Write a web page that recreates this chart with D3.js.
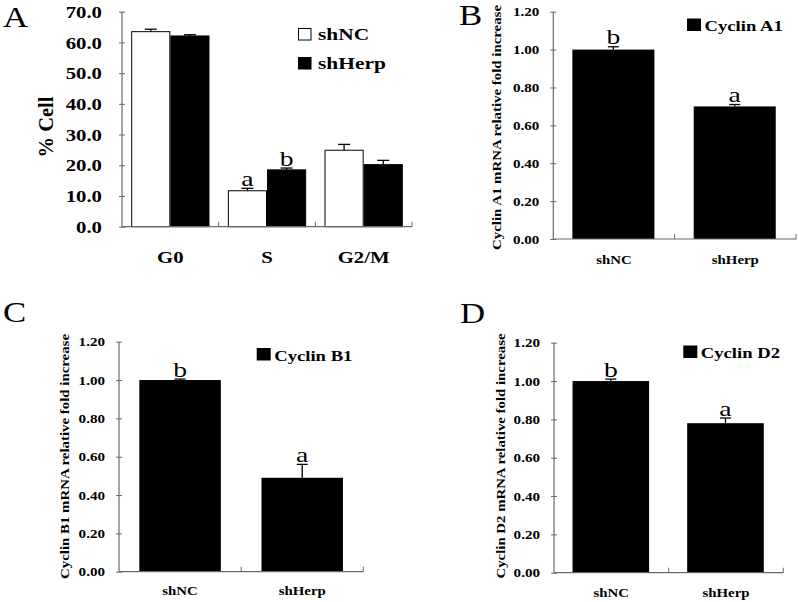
<!DOCTYPE html>
<html>
<head>
<meta charset="utf-8">
<script src="https://cdn.jsdelivr.net/npm/d3@7"></script>
<style>
  html, body { margin: 0; padding: 0; background: #fff; }
  svg { display: block; }
  text { font-family: "Liberation Serif", "Times New Roman", serif; fill: #000; }
</style>
</head>
<body>
<svg id="chart" width="798" height="602"></svg>
<script>
// ---------------- DATA ----------------
const phaseCategories = ["G0", "S", "G2/M"];
const cellSeries = ["shNC", "shHerp"];
const shNCPercent = [63.5, 11.7, 24.9];
const shNCPercentErr = [0.8, 0.8, 1.9];
const shHerpPercent = [62.1, 18.5, 20.2];
const shHerpPercentErr = [0.4, 0.6, 1.4];
const shNCPercentSig = ["", "a", ""];
const shHerpPercentSig = ["", "b", ""];
const percentTicks = [0, 10, 20, 30, 40, 50, 60, 70];

const groupLabels = ["shNC", "shHerp"];
const foldTicks = [0, 0.2, 0.4, 0.6, 0.8, 1.0, 1.2];
const cyclinA1 = [1.00, 0.70];
const cyclinA1Err = [0.015, 0.01];
const cyclinA1Sig = ["b", "a"];
const cyclinB1 = [1.00, 0.49];
const cyclinB1Err = [0.005, 0.07];
const cyclinB1Sig = ["b", "a"];
const cyclinD2 = [1.00, 0.78];
const cyclinD2Err = [0.01, 0.027];
const cyclinD2Sig = ["b", "a"];

// ---------------- HELPERS ----------------
const SX = 1.26; // horizontal stretch of the original figure text
const AXIS_COLOR = "#6a6a6a";
const svg = d3.select("#chart");

function hText(g, x, y, str, size, opts = {}) {
  return g.append("text")
    .attr("transform", `translate(${x},${y}) scale(${opts.sx || SX},1)`)
    .attr("text-anchor", opts.anchor || "start")
    .attr("font-size", size)
    .attr("font-weight", opts.bold ? "bold" : "normal")
    .text(str);
}

function vTitle(g, x, cy, str, size, len) {
  const t = g.append("text")
    .attr("transform", `translate(${x},${cy}) rotate(-90)`)
    .attr("text-anchor", "middle")
    .attr("font-size", size)
    .attr("font-weight", "bold")
    .text(str);
  if (len) t.attr("textLength", len).attr("lengthAdjust", "spacingAndGlyphs");
  return t;
}

function drawAxes(g, x0, x1, y, ticks, fmt, tickFont, tickGap, nCats) {
  const yAxis = d3.axisLeft(y).tickValues(ticks).tickFormat(d3.format(fmt)).tickSize(3).tickPadding(0);
  const ga = g.append("g").attr("transform", `translate(${x0},0)`).call(yAxis)
    .attr("font-family", null);
  ga.select(".domain").remove();
  ga.selectAll(".tick line").attr("x1", -3).attr("x2", 3).attr("stroke", AXIS_COLOR);
  ga.selectAll(".tick text")
    .attr("x", -tickGap / SX)
    .attr("dy", "0.34em")
    .attr("transform", `scale(${SX},1)`)
    .attr("font-size", tickFont)
    .attr("font-weight", "bold")
    .attr("fill", "#000");
  const [yb, yt] = y.range();
  g.append("line").attr("x1", x0).attr("x2", x0).attr("y1", yb).attr("y2", yt)
    .attr("stroke", AXIS_COLOR).attr("stroke-width", 1.2);
  g.append("line").attr("x1", x0).attr("x2", x1).attr("y1", yb).attr("y2", yb)
    .attr("stroke", AXIS_COLOR).attr("stroke-width", 1.2);
  const step = (x1 - x0) / nCats;
  for (let i = 1; i <= nCats; i++) {
    const xx = x0 + i * step;
    g.append("line").attr("x1", xx).attr("x2", xx).attr("y1", yb).attr("y2", yb - 5)
      .attr("stroke", AXIS_COLOR).attr("stroke-width", 1);
  }
}

function errorBar(g, cx, yTop, yErr, capW) {
  g.append("line").attr("x1", cx).attr("x2", cx).attr("y1", yTop).attr("y2", yErr)
    .attr("stroke", "#000").attr("stroke-width", 1.3);
  g.append("line").attr("x1", cx - capW / 2).attr("x2", cx + capW / 2).attr("y1", yErr).attr("y2", yErr)
    .attr("stroke", "#000").attr("stroke-width", 1.3);
}

// ---------------- PANEL A ----------------
(function () {
  const g = svg.append("g");
  const x0 = 122, x1 = 412, yBot = 226.7, yTop = 11.7;
  const y = d3.scaleLinear().domain([0, 70]).range([yBot, yTop]);
  const x = d3.scaleBand().domain(phaseCategories).range([x0, x1]).padding(0);
  const inner = d3.scaleBand().domain(cellSeries).range([0, x.bandwidth() * 0.81]).padding(0);
  const groupOff = (x.bandwidth() - x.bandwidth() * 0.81) / 2;

  const seriesVals = { shNC: shNCPercent, shHerp: shHerpPercent };
  const seriesErr = { shNC: shNCPercentErr, shHerp: shHerpPercentErr };
  const seriesSig = { shNC: shNCPercentSig, shHerp: shHerpPercentSig };
  const seriesFill = { shNC: "#fff", shHerp: "#000" };

  cellSeries.forEach(s => {
    phaseCategories.forEach((c, i) => {
      const bx = x(c) + groupOff + inner(s);
      const bw = inner.bandwidth();
      g.append("rect")
        .attr("x", bx + 0.5).attr("y", y(seriesVals[s][i]))
        .attr("width", bw - 1).attr("height", yBot - y(seriesVals[s][i]))
        .attr("fill", seriesFill[s]).attr("stroke", "#000").attr("stroke-width", 1);
      errorBar(g, bx + bw / 2, y(seriesVals[s][i]), y(seriesVals[s][i] + seriesErr[s][i]), 12);
      if (seriesSig[s][i]) {
        hText(g, bx + bw / 2, y(seriesVals[s][i] + seriesErr[s][i]) - 2.5, seriesSig[s][i], 22, { anchor: "middle" });
      }
    });
  });

  drawAxes(g, x0, x1, y, percentTicks, ".1f", 16.5, 20, phaseCategories.length);

  phaseCategories.forEach(c => {
    hText(g, x(c) + x.bandwidth() / 2, 262.5, c, 16.5, { anchor: "middle", bold: true });
  });

  vTitle(g, 53, 127, "% Cell", 20.5);

  g.append("rect").attr("x", 298.5).attr("y", 28.5).attr("width", 12.5).attr("height", 11.5)
    .attr("fill", "#fff").attr("stroke", "#000").attr("stroke-width", 1);
  hText(g, 318, 40, cellSeries[0], 17, { bold: true });
  g.append("rect").attr("x", 298).attr("y", 57).attr("width", 13.5).attr("height", 12.5).attr("fill", "#000");
  hText(g, 318, 69, cellSeries[1], 17, { bold: true });

  hText(g, 3, 27, "A", 29, { sx: 1.2 });
})();

// ---------------- PANELS B, C, D ----------------
function foldPanel(cfg) {
  const g = svg.append("g");
  const { x0, x1, yBot, yTop } = cfg;
  const y = d3.scaleLinear().domain([0, 1.2]).range([yBot, yTop]);
  const x = d3.scaleBand().domain(groupLabels).range([x0, x1]).padding(0);
  const frac = cfg.frac;
  cfg.values.forEach((v, i) => {
    const bw = x.bandwidth() * frac;
    const bx = x(groupLabels[i]) + (x.bandwidth() - bw) / 2 + cfg.shift;
    g.append("rect").attr("x", bx).attr("y", y(v)).attr("width", bw).attr("height", yBot - y(v)).attr("fill", "#000");
    const yE = y(v + cfg.errs[i]);
    errorBar(g, bx + bw / 2, y(v), yE, 11);
    hText(g, bx + bw / 2, Math.min(yE, y(v)) - 2.5, cfg.sig[i], 22, { anchor: "middle" });
  });

  drawAxes(g, x0, x1, y, foldTicks, ".2f", 12, 14, groupLabels.length);

  groupLabels.forEach(c => {
    hText(g, x(c) + x.bandwidth() / 2, cfg.xLabelY, c, 11.8, { anchor: "middle", bold: true });
  });

  vTitle(g, cfg.titleX, cfg.titleCY, cfg.title, 13.5, 245);

  g.append("rect").attr("x", cfg.legX).attr("y", cfg.legY - 12.5).attr("width", 14).attr("height", 12.5).attr("fill", "#000");
  hText(g, cfg.legX + 17.5, cfg.legY, cfg.legend, 14.8, { bold: true });

  hText(g, cfg.letterX, cfg.letterY, cfg.letter, 29, { sx: 1.2 });
}

foldPanel({
  x0: 553.3, x1: 796, yBot: 239, yTop: 11.7, frac: 0.676, shift: -0.6,
  values: cyclinA1, errs: cyclinA1Err, sig: cyclinA1Sig,
  title: "Cyclin A1 mRNA relative fold increase", titleX: 501.3, titleCY: 127.5,
  legend: "Cyclin A1", legX: 687, legY: 31, xLabelY: 263.5,
  letter: "B", letterX: 459, letterY: 25
});

foldPanel({
  x0: 119, x1: 363.3, yBot: 571.7, yTop: 341.7, frac: 0.667, shift: 0,
  values: cyclinB1, errs: cyclinB1Err, sig: cyclinB1Sig,
  title: "Cyclin B1 mRNA relative fold increase", titleX: 69, titleCY: 456.5,
  legend: "Cyclin B1", legX: 256.7, legY: 360.5, xLabelY: 595,
  letter: "C", letterX: 3, letterY: 322
});

foldPanel({
  x0: 554, x1: 783.3, yBot: 572.7, yTop: 342.7, frac: 0.668, shift: -0.5,
  values: cyclinD2, errs: cyclinD2Err, sig: cyclinD2Sig,
  title: "Cyclin D2 mRNA relative fold increase", titleX: 504.6, titleCY: 456,
  legend: "Cyclin D2", legX: 683.3, legY: 358, xLabelY: 596.5,
  letter: "D", letterX: 460, letterY: 323
});
</script>
</body>
</html>
